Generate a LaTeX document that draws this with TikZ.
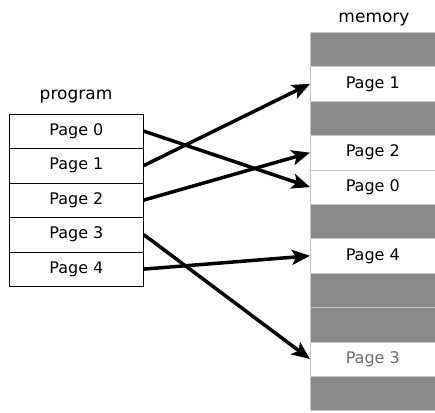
\documentclass[tikz,border=0pt]{standalone}
\usepackage{fontspec}
\setmainfont{DejaVu Sans}
\usetikzlibrary{arrows.meta}
\definecolor{memgray}{RGB}{138,138,138}
\definecolor{txtgray}{RGB}{110,110,110}
\begin{document}
\begin{tikzpicture}[x=1pt,y=-1pt,
  prog/.style={draw=black, line width=0.7pt, minimum width=134pt, minimum height=34.5pt,
    inner sep=0pt, anchor=north west, font=\fontsize{16}{16}\selectfont},
  slot/.style={draw=gray!45, line width=0.5pt, minimum width=125pt, minimum height=34.4pt,
    inner sep=0pt, anchor=north west, font=\fontsize{16}{16}\selectfont},
  used/.style={slot, fill=white},
  free/.style={slot, fill=memgray},
  title/.style={font=\fontsize{17}{17}\selectfont},
  map/.style={line width=3.5pt, -{Stealth[length=18pt,width=15pt,inset=4pt]}}]
\useasboundingbox (0,0) rectangle (435,412);
% labels
\node[title] (plabel) at (76,97) {program};
\node[title] (mlabel) at (374,20) {memory};
% program pages
\node[prog] (p0) at (9,113.5) {Page 0};
\node[prog] (p1) at (9,148)   {Page 1};
\node[prog] (p2) at (9,182.5) {Page 2};
\node[prog] (p3) at (9,217)   {Page 3};
\node[prog] (p4) at (9,251.5) {Page 4};
% memory slots
\node[free] (m0)  at (310,32.0)  {};
\node[used] (m1)  at (310,66.4)  {Page 1};
\node[free] (m2)  at (310,100.8) {};
\node[used] (m3)  at (310,135.2) {Page 2};
\node[used] (m4)  at (310,169.6) {Page 0};
\node[free] (m5)  at (310,204.0) {};
\node[used] (m6)  at (310,238.4) {Page 4};
\node[free] (m7)  at (310,272.8) {};
\node[free] (m8)  at (310,307.2) {};
\node[used, text=txtgray] (m9) at (310,341.6) {Page 3};
\node[free] (m10) at (310,376.0) {};
% mappings
\draw[map] (p0.east) -- (m4.west);
\draw[map] (p1.east) -- (m1.west);
\draw[map] (p2.east) -- (m3.west);
\draw[map] (p3.east) -- (m9.west);
\draw[map] (p4.east) -- (m6.west);
\end{tikzpicture}
\end{document}
